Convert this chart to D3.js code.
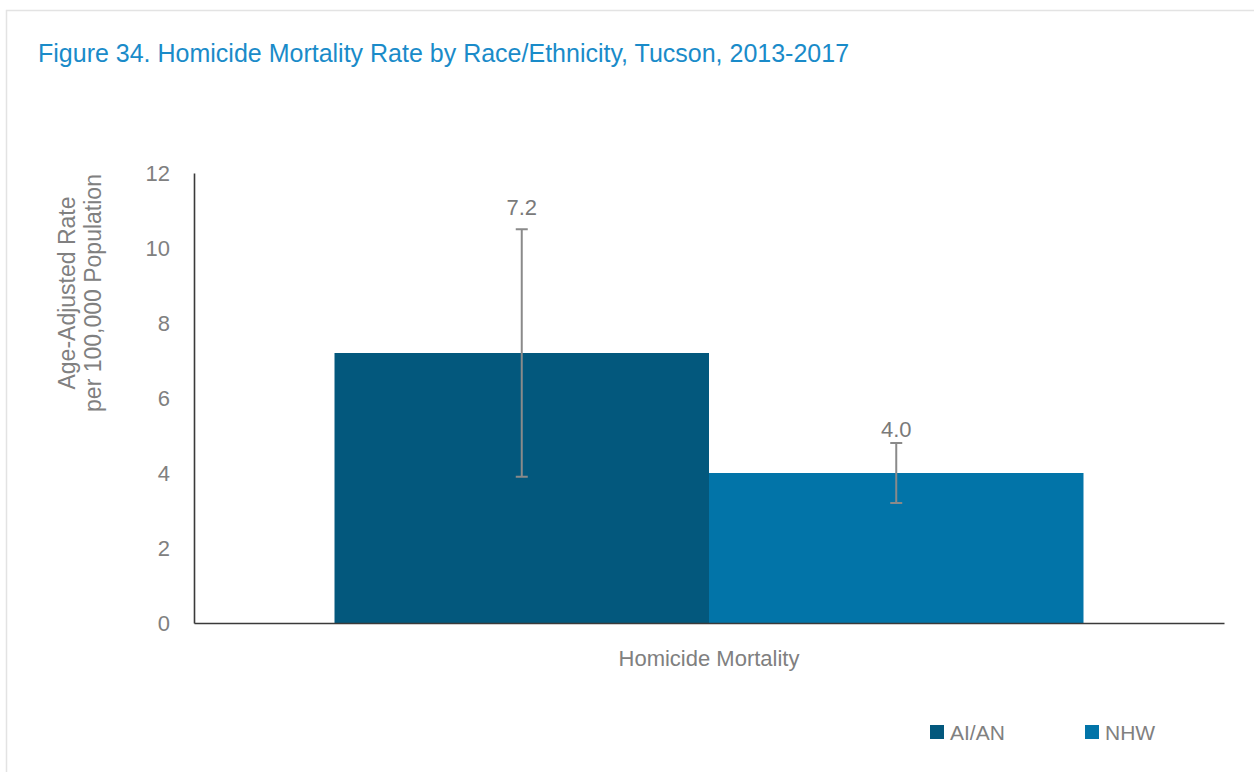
<!DOCTYPE html>
<html>
<head>
<meta charset="utf-8">
<script src="https://cdn.jsdelivr.net/npm/d3@7"></script>
<style>
  html, body { margin: 0; padding: 0; background: #fff; }
  svg { display: block; }
  text { font-family: "Liberation Sans", Arial, sans-serif; }
</style>
</head>
<body>
<svg id="chart" width="1254" height="772"></svg>
<script>
// Homicide mortality, age-adjusted rate per 100,000, Tucson 2013-2017
const categories = ["Homicide Mortality"];
const groups = ["AI/AN", "NHW"];
const rates = [7.2, 4.0];
const lowerCI = [3.9, 3.2];
const upperCI = [10.5, 4.8];
const yTicks = [0, 2, 4, 6, 8, 10, 12];
const colors = ["#03587d", "#0274a8"];

const FONT = "\"Liberation Sans\", Arial, sans-serif";
const GREY = "#808080";

const svg = d3.select("#chart");
const margin = { left: 194, right: 30, top: 173, bottom: 149 };
const W = 1254, H = 772;
const plotW = W - margin.left - margin.right;
const plotH = H - margin.top - margin.bottom;

// outer frame
svg.append("rect")
  .attr("x", 6.5).attr("y", 10.5)
  .attr("width", W + 10).attr("height", H + 10)
  .attr("fill", "none").attr("stroke", "#e3e3e3").attr("stroke-width", 1.5);

// title
svg.append("text")
  .attr("x", 38).attr("y", 62)
  .attr("fill", "#1a8bc9")
  .attr("font-size", 25)
  .text("Figure 34. Homicide Mortality Rate by Race/Ethnicity, Tucson, 2013-2017");

const g = svg.append("g").attr("transform", `translate(${margin.left},${margin.top})`);

const y = d3.scaleLinear().domain([0, 12]).range([plotH, 0]);
const x0 = d3.scaleBand().domain(categories).range([0, plotW]).paddingInner(0).paddingOuter(0.1876);
const x1 = d3.scaleBand().domain(groups).range([0, x0.bandwidth()]).padding(0);

// y axis
const yAxis = g.append("g").call(d3.axisLeft(y).tickValues(yTicks).tickSize(0).tickPadding(24));
yAxis.select(".domain").attr("stroke", "#3a3a3a").attr("stroke-width", 1.6);
yAxis.selectAll("text").attr("fill", GREY).attr("font-size", 22).attr("font-family", FONT);

// bars
const data = groups.map((k, i) => ({ key: k, value: rates[i], lo: lowerCI[i], hi: upperCI[i], color: colors[i] }));
const grp = g.append("g").attr("transform", `translate(${x0(categories[0])},0)`);

grp.selectAll("rect.bar").data(data).join("rect")
  .attr("class", "bar")
  .attr("x", d => x1(d.key))
  .attr("y", d => y(d.value))
  .attr("width", x1.bandwidth())
  .attr("height", d => y(0) - y(d.value))
  .attr("fill", d => d.color);

// error bars (95% confidence interval)
const eb = grp.selectAll("g.err").data(data).join("g").attr("class", "err")
  .attr("transform", d => `translate(${x1(d.key) + x1.bandwidth() / 2},0)`);
eb.append("line").attr("x1", 0).attr("x2", 0)
  .attr("y1", d => y(d.lo)).attr("y2", d => y(d.hi))
  .attr("stroke", "#8a8a8a").attr("stroke-width", 2);
eb.append("line").attr("x1", -6).attr("x2", 6)
  .attr("y1", d => y(d.hi)).attr("y2", d => y(d.hi))
  .attr("stroke", "#8a8a8a").attr("stroke-width", 2);
eb.append("line").attr("x1", -6).attr("x2", 6)
  .attr("y1", d => y(d.lo)).attr("y2", d => y(d.lo))
  .attr("stroke", "#8a8a8a").attr("stroke-width", 2);

// value labels above the interval caps
const labelGap = [14, 6];
eb.append("text")
  .attr("text-anchor", "middle")
  .attr("y", (d, i) => y(d.hi) - labelGap[i])
  .attr("fill", "#7a7a7a").attr("font-size", 22)
  .text(d => d.value.toFixed(1));

// x axis
const xAxis = g.append("g").attr("transform", `translate(0,${plotH})`)
  .call(d3.axisBottom(x0).tickSize(0).tickPadding(27));
xAxis.select(".domain").attr("stroke", "#3a3a3a").attr("stroke-width", 1.6);
xAxis.selectAll("text").attr("fill", GREY).attr("font-size", 22).attr("font-family", FONT);

// y axis title
const yt = svg.append("text")
  .attr("transform", "translate(0,293) rotate(-90)")
  .attr("text-anchor", "middle")
  .attr("fill", GREY).attr("font-size", 23);
yt.append("tspan").attr("x", 0).attr("y", 75).text("Age-Adjusted Rate");
yt.append("tspan").attr("x", 0).attr("y", 101).text("per 100,000 Population");

// legend
const legendX = [930, 1085];
const leg = svg.append("g").selectAll("g").data(data).join("g")
  .attr("transform", (d, i) => `translate(${legendX[i]},725)`);
leg.append("rect").attr("width", 14).attr("height", 14).attr("fill", d => d.color);
leg.append("text").attr("x", 20).attr("y", 15)
  .attr("fill", GREY).attr("font-size", 21)
  .text(d => d.key);
</script>
</body>
</html>
